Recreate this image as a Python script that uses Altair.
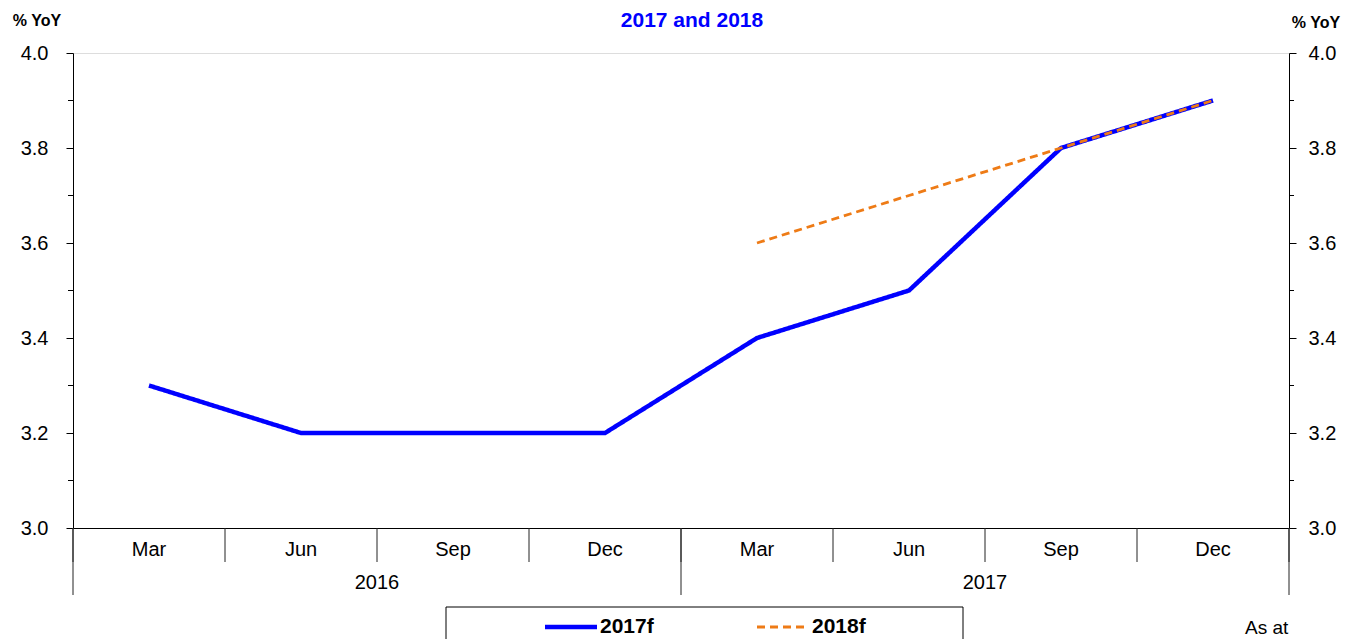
import altair as alt
import pandas as pd

# ---- data ----
quarters = ["Mar", "Jun", "Sep", "Dec", "Mar", "Jun", "Sep", "Dec"]
years = ["2016", "2017"]
series_names = ["2017f", "2018f"]
s2017f = [3.3, 3.2, 3.2, 3.2, 3.4, 3.5, 3.8, 3.9]
s2018f = [None, None, None, None, 3.6, 3.7, 3.8, 3.9]
y_major = [3.0, 3.2, 3.4, 3.6, 3.8, 4.0]
y_minor = [3.1, 3.3, 3.5, 3.7, 3.9]
title_text = "2017 and 2018"
unit_text = "% YoY"
note_text = "As at"
colors = ["#0000FF", "#EE7B16"]

W, H = 1216, 475
FONT = "Liberation Sans"

rows = []
for name, vals in zip(series_names, [s2017f, s2018f]):
    for i, v in enumerate(vals):
        if v is not None:
            rows.append({"series": name, "pos": i + 0.5, "value": v})
df = pd.DataFrame(rows)

xscale = alt.Scale(domain=[0, len(quarters)], nice=False, zero=False)
xaxis = alt.Axis(labels=False, ticks=False, title=None, grid=False,
                 domainColor="black", domainWidth=1)
yscale = alt.Scale(domain=[3.0, 4.0], nice=False, zero=False)

lines = alt.Chart(df).mark_line(clip=False).encode(
    x=alt.X("pos:Q", scale=xscale, axis=xaxis),
    y=alt.Y("value:Q", scale=yscale,
            axis=alt.Axis(values=y_major, format=".1f", tickSize=7, tickColor="black",
                          domainColor="black", labelFontSize=20, labelFont=FONT,
                          labelColor="black", labelPadding=18, grid=False, title=None)),
    color=alt.Color("series:N", scale=alt.Scale(domain=series_names, range=colors), legend=None),
    strokeDash=alt.StrokeDash("series:N", scale=alt.Scale(domain=series_names, range=[[1, 0], [8, 5]]), legend=None),
    strokeWidth=alt.StrokeWidth("series:N", scale=alt.Scale(domain=series_names, range=[4.5, 2.8]), legend=None),
    order=alt.Order("series:N"),
    detail="series:N",
)

minor_df = pd.DataFrame({"v": y_minor})
minor_left = alt.Chart(minor_df).mark_rule(color="black").encode(
    y=alt.Y("v:Q", scale=yscale),
    x=alt.value(-5), x2=alt.value(0),
)

# category separators
bounds = pd.DataFrame({"b": list(range(len(quarters) + 1))})
cat_sep = alt.Chart(bounds).mark_rule(color="#222222").encode(
    x=alt.X("b:Q", scale=xscale, axis=xaxis),
    y=alt.value(H), y2=alt.value(H + 34),
)
ybounds = pd.DataFrame({"b": [0, 4, 8]})
year_sep = alt.Chart(ybounds).mark_rule(color="#222222").encode(
    x=alt.X("b:Q", scale=xscale, axis=xaxis),
    y=alt.value(H), y2=alt.value(H + 67),
)
qdf = pd.DataFrame({"q": quarters, "pos": [i + 0.5 for i in range(len(quarters))]})
q_labels = alt.Chart(qdf).mark_text(fontSize=20, font=FONT, color="black", baseline="middle").encode(
    x=alt.X("pos:Q", scale=xscale, axis=xaxis),
    y=alt.value(H + 22), text="q:N",
)
ydf = pd.DataFrame({"yr": years, "pos": [2, 6]})
yr_labels = alt.Chart(ydf).mark_text(fontSize=20, font=FONT, color="black", baseline="middle").encode(
    x=alt.X("pos:Q", scale=xscale, axis=xaxis),
    y=alt.value(H + 55), text="yr:N",
)

# title and unit labels
tdf = pd.DataFrame({"t": [title_text]})
title = alt.Chart(tdf).mark_text(fontSize=21, font=FONT, fontWeight="bold", color="#0000FF",
                                 baseline="top").encode(
    x=alt.value(619), y=alt.value(-43), text="t:N")
udf = pd.DataFrame({"t": [unit_text]})
unit_left = alt.Chart(udf).mark_text(fontSize=16, font=FONT, fontWeight="bold", color="black",
                                     baseline="middle").encode(
    x=alt.value(-36), y=alt.value(-32), text="t:N")
unit_right = alt.Chart(udf).mark_text(fontSize=16, font=FONT, fontWeight="bold", color="black",
                                      baseline="middle").encode(
    x=alt.value(1243), y=alt.value(-30), text="t:N")
ndf = pd.DataFrame({"t": [note_text]})
note = alt.Chart(ndf).mark_text(fontSize=19, font=FONT, color="black", baseline="middle",
                                align="left").encode(
    x=alt.value(1172), y=alt.value(575), text="t:N")

# legend box
box = alt.Chart(tdf).mark_rect(fill="white", stroke="black", strokeWidth=1).encode(
    x=alt.value(373), x2=alt.value(890), y=alt.value(554), y2=alt.value(640))
ldf = pd.DataFrame({"series": series_names, "x0": [472, 684], "x1": [524, 735], "tx": [527, 739]})
leg_lines = alt.Chart(ldf).mark_rule().encode(
    x=alt.X("x0:Q", scale=None), x2="x1:Q", y=alt.value(574),
    color=alt.Color("series:N", scale=alt.Scale(domain=series_names, range=colors), legend=None),
    strokeDash=alt.StrokeDash("series:N", scale=alt.Scale(domain=series_names, range=[[1, 0], [8, 5]]), legend=None),
    strokeWidth=alt.StrokeWidth("series:N", scale=alt.Scale(domain=series_names, range=[4.5, 2.8]), legend=None),
)
leg_text = alt.Chart(ldf).mark_text(fontSize=21, font=FONT, fontWeight="bold", color="black",
                                    align="left", baseline="middle").encode(
    x=alt.X("tx:Q", scale=None), y=alt.value(574), text="series:N")

left = alt.layer(cat_sep, year_sep, q_labels, yr_labels, minor_left, lines,
                 title, unit_left, unit_right, box, leg_lines, leg_text, note)

minor_right = alt.Chart(minor_df).mark_rule(color="black").encode(
    y=alt.Y("v:Q", scale=yscale,
            axis=alt.Axis(orient="right", values=y_major, format=".1f", tickSize=7, tickColor="black",
                          domainColor="black", labelFontSize=20, labelFont=FONT,
                          labelColor="black", labelPadding=12, grid=False, title=None)),
    x=alt.value(W), x2=alt.value(W + 5),
)

chart = alt.layer(left, minor_right).resolve_scale(y="independent").properties(
    width=W, height=H,
    autosize=alt.AutoSizeParams(type="none"),
    padding={"left": 65, "top": 45, "right": 66, "bottom": 111},
).configure_view(stroke=None).configure(background="white")

chart.save("out.html", embed_options={"renderer": "svg", "actions": False})
